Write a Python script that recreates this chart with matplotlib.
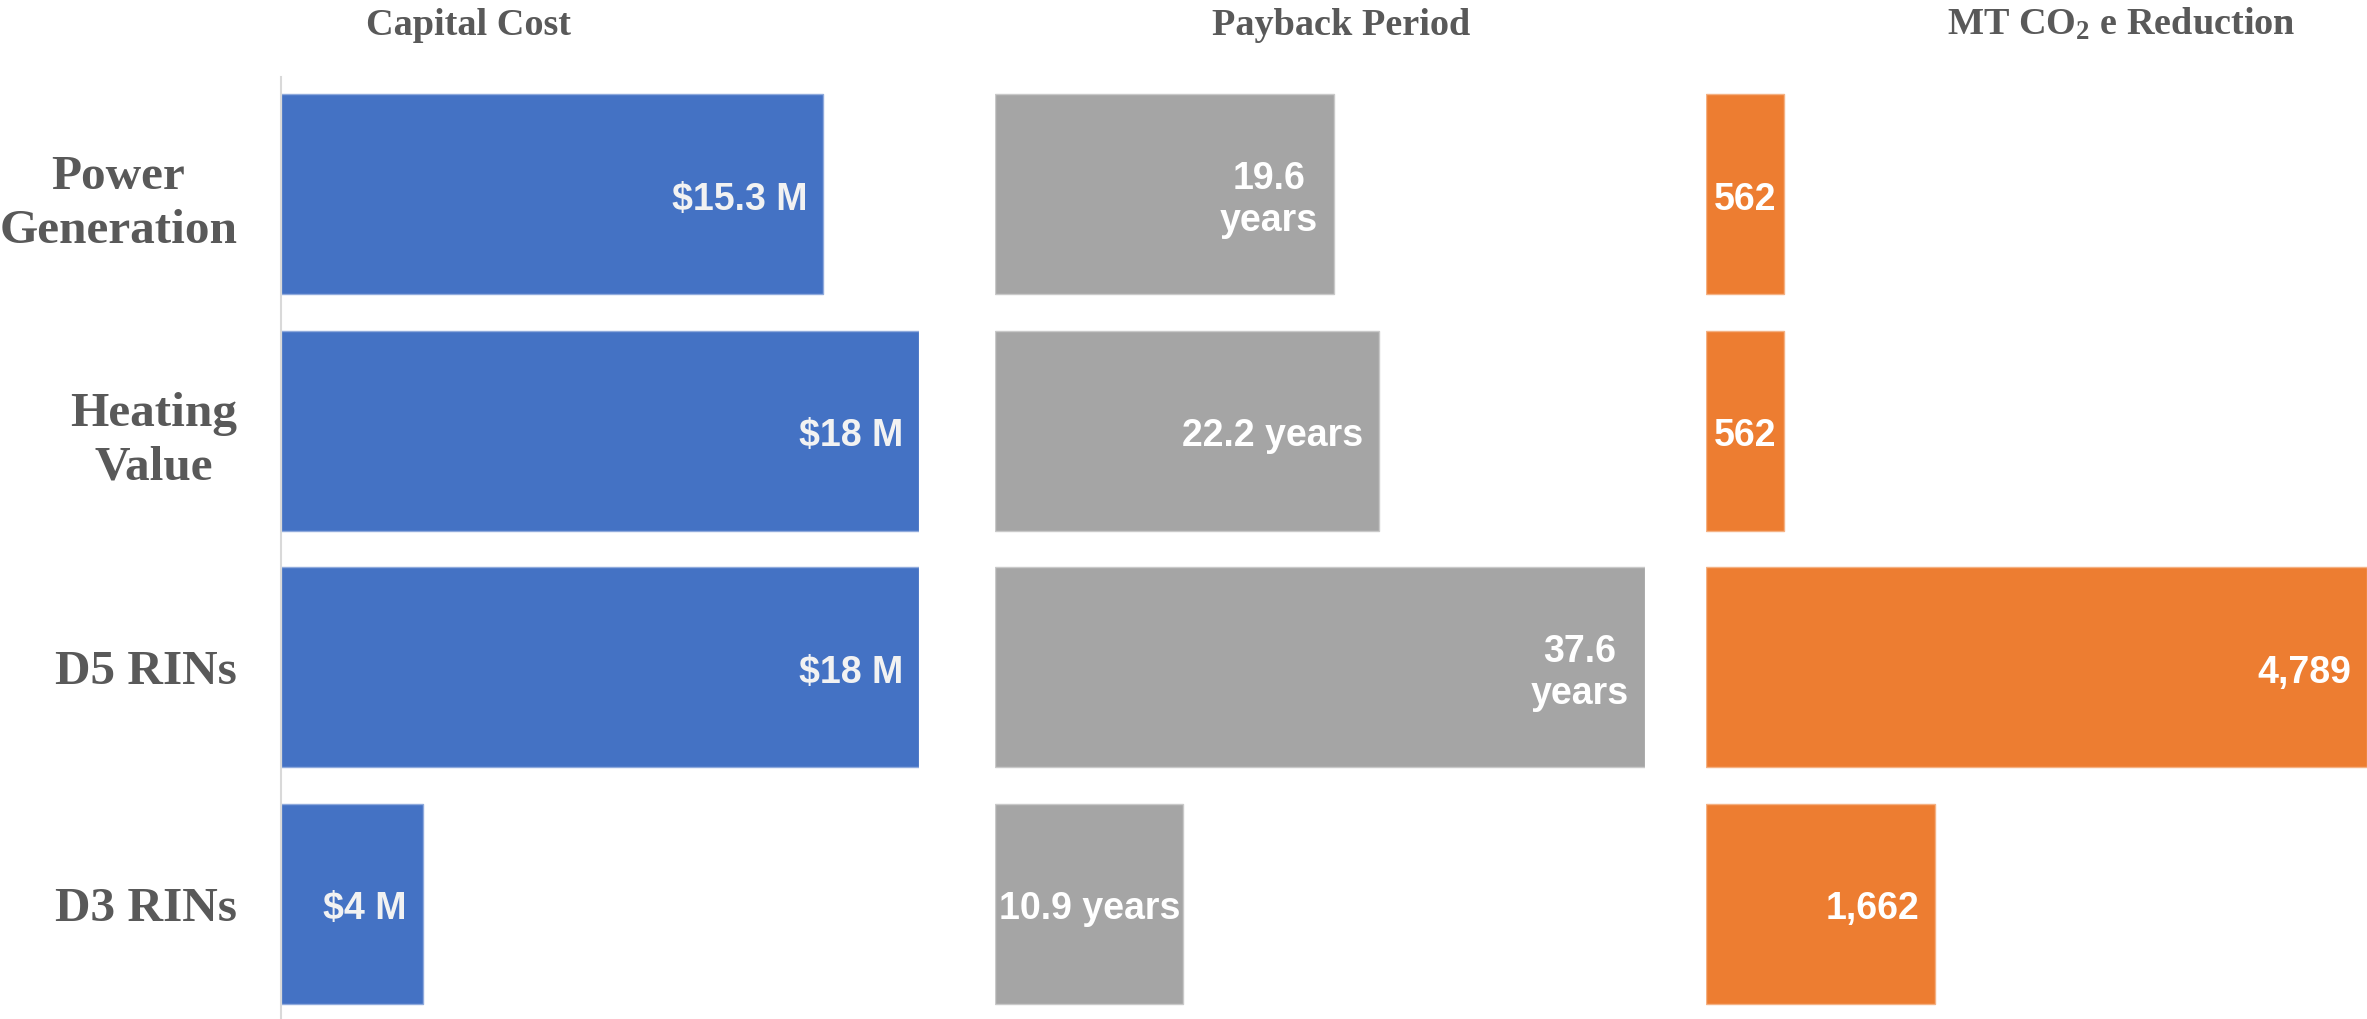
import matplotlib
matplotlib.use("Agg")
import matplotlib.pyplot as plt

# data
categories = ["Power\nGeneration", "Heating\nValue", "D5 RINs", "D3 RINs"]
capital_cost = [15.3, 18, 18, 4]            # $ M
payback_years = [19.6, 22.2, 37.6, 10.9]    # years
co2_reduction = [562, 562, 4789, 1662]      # MT CO2e

cost_labels = ["$15.3 M", "$18 M", "$18 M", "$4 M"]
payback_labels = ["19.6\nyears", "22.2 years", "37.6\nyears", "10.9 years"]
co2_labels = ["562", "562", "4,789", "1,662"]

titles = ["Capital Cost", "Payback Period", r"MT CO$_\mathrm{2}$ e Reduction"]

plt.rcParams['mathtext.fontset'] = 'custom'
plt.rcParams['mathtext.rm'] = 'Liberation Serif:bold'
plt.rcParams['mathtext.it'] = 'Liberation Serif:bold'
plt.rcParams['mathtext.bf'] = 'Liberation Serif:bold'

SERIF = ['Liberation Serif', 'DejaVu Serif']
SANS = ['Liberation Sans', 'DejaVu Sans']
DARK = '#595959'

W, H = 2367, 1019
fig = plt.figure(figsize=(W / 100, H / 100), dpi=100)

# panel geometry in pixels (left, right)
panels = [(281, 919), (995, 1645), (1706, 2367)]
top_px = 77
ylim = (3.488, -0.497)
bar_h = 0.846


def make_ax(left, right):
    ax = fig.add_axes([left / W, 0, (right - left) / W, (H - top_px) / H])
    for s in ax.spines.values():
        s.set_visible(False)
    ax.set_xticks([])
    ax.set_ylim(*ylim)
    ax.patch.set_alpha(0)
    return ax


series = [
    (capital_cost, cost_labels, '#4472C4', '#8FAADC', '#F2F2F2'),
    (payback_years, payback_labels, '#A5A5A5', '#C9C9C9', 'white'),
    (co2_reduction, co2_labels, '#ED7D31', '#F4B183', 'white'),
]

axes = []
texts = []
for (left, right), (vals, labs, col, edge, tcol) in zip(panels, series):
    ax = make_ax(left, right)
    ax.set_xlim(0, max(vals))
    y = list(range(len(vals)))
    ax.barh(y, vals, height=bar_h, color=col, edgecolor=edge, linewidth=1)
    ax.set_yticks([])
    for yi, v, lab in zip(y, vals, labs):
        t = ax.annotate(lab, xy=(v, yi), xytext=(-11.5, -4),
                        textcoords='offset points', ha='right', va='center',
                        multialignment='center', linespacing=1.2,
                        color=tcol, fontsize=27, fontweight='bold',
                        family=SANS)
        texts.append((ax, t, v, yi))
    axes.append(ax)

# row labels on the first panel
ax1 = axes[0]
ax1.spines['left'].set_visible(True)
ax1.spines['left'].set_color('#D9D9D9')
ax1.spines['left'].set_linewidth(1.5)
ax1.set_yticks(range(len(categories)))
ax1.set_yticklabels(categories)
ax1.tick_params(axis='y', length=0, pad=31.5)
for lab in ax1.get_yticklabels():
    lab.set_fontsize(35.5)
    lab.set_fontweight('bold')
    lab.set_family(SERIF)
    lab.set_color(DARK)
    lab.set_multialignment('center')
    lab.set_linespacing(1.27)

# titles
title_x = [468, 1341, 2121]
for x, tt in zip(title_x, titles):
    fig.text(x / W, 1 - 35 / H, tt, ha='center', va='baseline',
             fontsize=27.5, fontweight='bold', family=SERIF, color=DARK)

# labels that do not fit with padding get centred in the bar
fig.canvas.draw()
r = fig.canvas.get_renderer()
for ax, t, v, yi in texts:
    bb = t.get_window_extent(r)
    x0 = ax.transData.transform((0, yi))[0]
    x1 = ax.transData.transform((v, yi))[0]
    if bb.width + 2 * 16 > (x1 - x0):
        t.xy = (v / 2, yi)
        t.set_position((0, -4))
        t.set_ha('center')

fig.savefig('out.png', dpi=100)
